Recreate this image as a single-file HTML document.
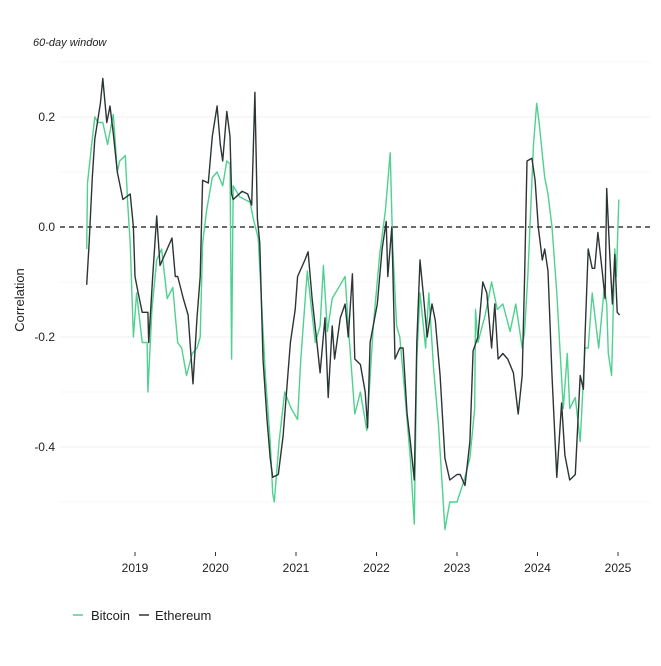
<!DOCTYPE html>
<html><head><meta charset="utf-8"><style>
body{margin:0;background:#fff;font-family:"Liberation Sans",sans-serif}
svg text{font-family:"Liberation Sans",sans-serif}
</style></head><body>
<svg id="c" width="661" height="661" viewBox="0 0 661 661" xmlns="http://www.w3.org/2000/svg">
<rect width="661" height="661" fill="#fff"/>
<text x="33" y="46" font-size="11" font-style="italic" fill="#222">60-day window</text>
<text transform="translate(24,300) rotate(-90)" text-anchor="middle" font-size="13" fill="#222">Correlation</text>
<g id="grid"></g><g id="yt"></g><g id="xt"></g>
<line x1="60" x2="650" y1="227" y2="227" stroke="#111" stroke-width="1.3" stroke-dasharray="5,4"/>
<g id="series"></g>
<g>
<line x1="73" x2="83" y1="615" y2="615" stroke="#4fd18f" stroke-width="1.5"/>
<text x="91" y="620" font-size="13" fill="#222">Bitcoin</text>
<line x1="139" x2="149" y1="615" y2="615" stroke="#2d3436" stroke-width="1.5"/>
<text x="155" y="620" font-size="13" fill="#222">Ethereum</text>
</g>
</svg>
<script>
const yTicks=[0.2,0.0,-0.2,-0.4];
const yTickLabels=["0.2","0.0","-0.2","-0.4"];
const xTicks=[2019,2020,2021,2022,2023,2024,2025];
const ethDates=[2018.40,2018.43,2018.47,2018.50,2018.57,2018.60,2018.65,2018.69,2018.73,2018.78,2018.85,2018.94,2018.98,2019.00,2019.04,2019.09,2019.16,2019.17,2019.22,2019.27,2019.31,2019.40,2019.46,2019.50,2019.53,2019.60,2019.66,2019.72,2019.77,2019.81,2019.84,2019.91,2019.96,2020.02,2020.06,2020.09,2020.14,2020.18,2020.20,2020.22,2020.33,2020.40,2020.45,2020.49,2020.52,2020.55,2020.59,2020.64,2020.68,2020.71,2020.78,2020.84,2020.93,2020.99,2021.02,2021.11,2021.15,2021.20,2021.26,2021.30,2021.36,2021.40,2021.45,2021.48,2021.55,2021.61,2021.65,2021.70,2021.73,2021.80,2021.86,2021.89,2021.92,2022.01,2022.07,2022.12,2022.14,2022.19,2022.23,2022.29,2022.33,2022.38,2022.42,2022.47,2022.50,2022.54,2022.58,2022.63,2022.69,2022.73,2022.79,2022.85,2022.91,2023.00,2023.04,2023.10,2023.16,2023.20,2023.26,2023.32,2023.37,2023.43,2023.47,2023.51,2023.57,2023.63,2023.70,2023.76,2023.81,2023.84,2023.87,2023.93,2023.97,2024.01,2024.06,2024.09,2024.13,2024.18,2024.24,2024.30,2024.34,2024.40,2024.47,2024.53,2024.57,2024.59,2024.63,2024.68,2024.71,2024.75,2024.80,2024.84,2024.86,2024.90,2024.93,2024.96,2024.99,2025.02];
const ethValues=[-0.105,-0.03,0.09,0.16,0.225,0.27,0.19,0.22,0.17,0.10,0.05,0.06,0.0,-0.09,-0.12,-0.155,-0.155,-0.21,-0.09,0.02,-0.07,-0.04,-0.02,-0.09,-0.09,-0.13,-0.16,-0.285,-0.165,-0.09,0.085,0.08,0.165,0.22,0.15,0.12,0.21,0.165,0.06,0.05,0.065,0.06,0.04,0.245,0.015,-0.03,-0.24,-0.35,-0.42,-0.455,-0.45,-0.38,-0.21,-0.15,-0.09,-0.06,-0.045,-0.13,-0.21,-0.265,-0.165,-0.31,-0.18,-0.24,-0.165,-0.14,-0.2,-0.085,-0.24,-0.25,-0.30,-0.365,-0.21,-0.14,-0.04,0.01,-0.09,0.0,-0.24,-0.22,-0.22,-0.34,-0.39,-0.46,-0.21,-0.06,-0.12,-0.2,-0.14,-0.17,-0.27,-0.42,-0.46,-0.45,-0.45,-0.47,-0.39,-0.225,-0.2,-0.10,-0.12,-0.22,-0.14,-0.24,-0.23,-0.24,-0.265,-0.34,-0.27,-0.09,0.12,0.125,0.085,0.0,-0.06,-0.04,-0.08,-0.27,-0.455,-0.32,-0.415,-0.46,-0.45,-0.27,-0.295,-0.2,-0.04,-0.075,-0.075,-0.01,-0.075,-0.13,0.07,-0.06,-0.14,-0.05,-0.155,-0.16];
const btcDates=[2018.40,2018.41,2018.47,2018.50,2018.54,2018.60,2018.66,2018.73,2018.78,2018.81,2018.88,2018.91,2018.94,2018.98,2019.02,2019.09,2019.15,2019.16,2019.21,2019.27,2019.33,2019.40,2019.47,2019.53,2019.58,2019.64,2019.71,2019.77,2019.81,2019.84,2019.89,2019.96,2020.02,2020.09,2020.14,2020.18,2020.20,2020.22,2020.30,2020.43,2020.47,2020.53,2020.58,2020.62,2020.68,2020.71,2020.73,2020.79,2020.86,2020.94,2021.02,2021.06,2021.14,2021.17,2021.24,2021.30,2021.34,2021.39,2021.45,2021.53,2021.61,2021.65,2021.73,2021.80,2021.88,2021.96,2022.04,2022.11,2022.17,2022.20,2022.25,2022.29,2022.35,2022.42,2022.47,2022.50,2022.54,2022.61,2022.65,2022.71,2022.77,2022.85,2022.91,2023.00,2023.09,2023.16,2023.22,2023.23,2023.26,2023.35,2023.43,2023.50,2023.57,2023.66,2023.73,2023.76,2023.81,2023.84,2023.88,2023.95,2023.99,2024.02,2024.09,2024.13,2024.18,2024.24,2024.32,2024.37,2024.40,2024.47,2024.53,2024.59,2024.63,2024.68,2024.76,2024.83,2024.86,2024.88,2024.92,2024.96,2024.98,2025.01];
const btcValues=[-0.04,0.08,0.16,0.2,0.19,0.19,0.15,0.205,0.1,0.12,0.13,0.04,-0.03,-0.2,-0.12,-0.21,-0.21,-0.30,-0.15,-0.06,-0.04,-0.13,-0.11,-0.21,-0.22,-0.27,-0.23,-0.22,-0.2,-0.03,0.03,0.09,0.1,0.075,0.12,0.115,-0.24,0.075,0.055,0.045,0.015,-0.02,-0.16,-0.27,-0.39,-0.485,-0.5,-0.39,-0.3,-0.33,-0.35,-0.24,-0.08,-0.12,-0.21,-0.18,-0.07,-0.19,-0.13,-0.11,-0.09,-0.18,-0.34,-0.30,-0.37,-0.18,-0.05,0.03,0.135,-0.03,-0.18,-0.2,-0.30,-0.42,-0.54,-0.24,-0.12,-0.22,-0.12,-0.26,-0.36,-0.55,-0.5,-0.5,-0.46,-0.42,-0.33,-0.15,-0.21,-0.16,-0.10,-0.15,-0.14,-0.19,-0.14,-0.17,-0.22,-0.19,-0.09,0.15,0.225,0.19,0.09,0.06,0.0,-0.12,-0.33,-0.23,-0.33,-0.31,-0.39,-0.22,-0.22,-0.12,-0.22,-0.11,-0.14,-0.23,-0.27,-0.04,-0.09,0.05,-0.06,-0.04];
const NS="http://www.w3.org/2000/svg";
function xS(t){return 135+(t-2019)*80.5;}
function yS(v){return 227-550*v;}
const grid=document.getElementById('grid');
for(let k=-5;k<=3;k++){
  const v=k/10;
  const l=document.createElementNS(NS,'line');
  l.setAttribute('x1',60);l.setAttribute('x2',650);
  l.setAttribute('y1',yS(v));l.setAttribute('y2',yS(v));
  l.setAttribute('stroke',k%2===0?'#ececec':'#f5f5f5');l.setAttribute('stroke-width','0.8');
  
  
  grid.appendChild(l);
}
const yt=document.getElementById('yt');
yTicks.forEach((v,i)=>{
  const t=document.createElementNS(NS,'text');
  t.setAttribute('x',55);t.setAttribute('y',yS(v)+4);t.setAttribute('text-anchor','end');
  t.setAttribute('font-size','12');t.setAttribute('fill','#222');
  t.textContent=yTickLabels[i];
  
  
  yt.appendChild(t);
});
const xt=document.getElementById('xt');
xTicks.forEach(y=>{
  const l=document.createElementNS(NS,'line');
  l.setAttribute('x1',xS(y));l.setAttribute('x2',xS(y));l.setAttribute('y1',552);l.setAttribute('y2',556);
  l.setAttribute('stroke','#333');
  
  
  xt.appendChild(l);
  const t=document.createElementNS(NS,'text');
  t.setAttribute('x',xS(y));t.setAttribute('y',572);t.setAttribute('text-anchor','middle');
  t.setAttribute('font-size','12');t.setAttribute('fill','#222');
  t.textContent=y;
  
  
  xt.appendChild(t);
});
function line(d,v,color,name){
  const p=document.createElementNS(NS,'path');
  p.setAttribute('d',d.map((t,i)=>(i?'L':'M')+xS(t).toFixed(1)+','+yS(v[i]).toFixed(1)).join(''));
  p.setAttribute('fill','none');p.setAttribute('stroke',color);p.setAttribute('stroke-width','1.4');
  p.setAttribute('stroke-linejoin','round');
  
  
  document.getElementById('series').appendChild(p);
}
line(btcDates,btcValues,'#4fd18f','bitcoin-line');
line(ethDates,ethValues,'#2d3436','ethereum-line');
</script>
</body></html>
